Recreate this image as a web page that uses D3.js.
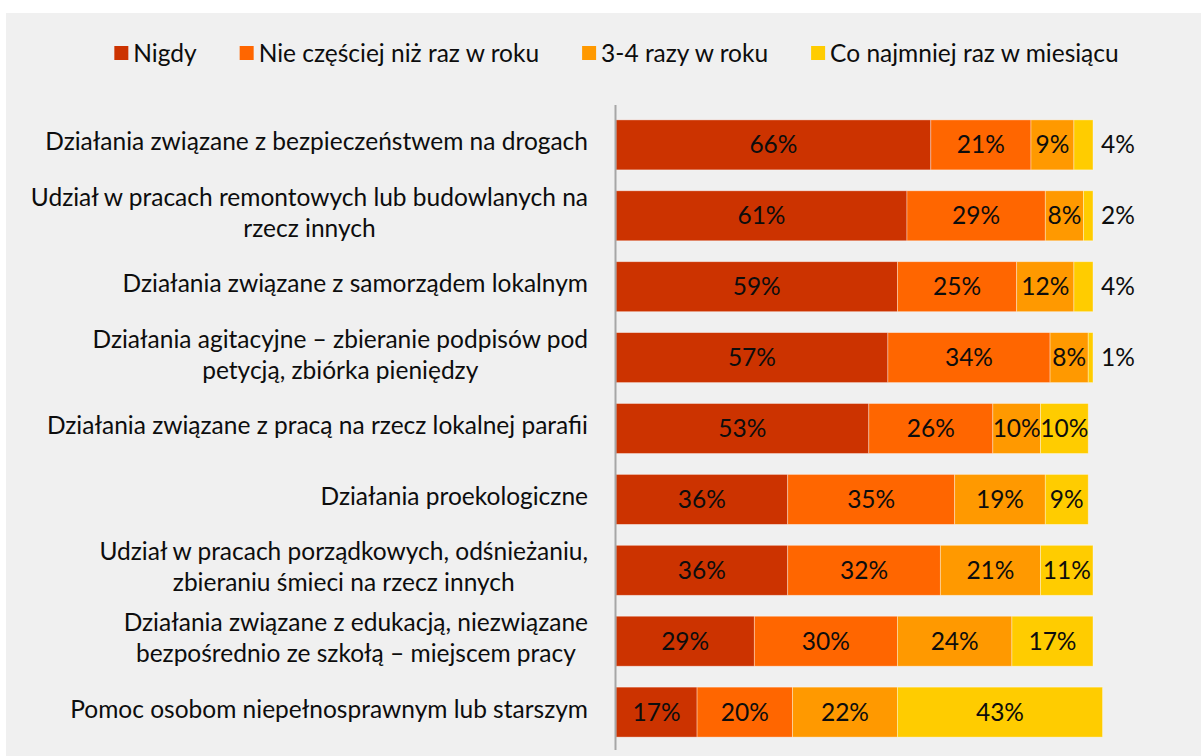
<!DOCTYPE html>
<html>
<head>
<meta charset="UTF-8">
<title>Aktywność społeczna</title>
<script src="https://d3js.org/d3.v7.min.js"></script>
<style>
  body { margin: 0; background: #ffffff; font-family: "Lato", sans-serif; }
  svg text { fill: #0d0d0d; }
</style>
</head>
<body>
<div id="chart"></div>
<script>

// categories (line breaks as in the original chart)
const categories = [
  "Działania związane z bezpieczeństwem na drogach",
  "Udział w pracach remontowych lub budowlanych na\nrzecz innych",
  "Działania związane z samorządem lokalnym",
  "Działania agitacyjne – zbieranie podpisów pod\npetycją, zbiórka pieniędzy",
  "Działania związane z pracą na rzecz lokalnej parafii",
  "Działania proekologiczne",
  "Udział w pracach porządkowych, odśnieżaniu,\nzbieraniu śmieci na rzecz innych",
  "Działania związane z edukacją, niezwiązane\nbezpośrednio ze szkołą – miejscem pracy",
  "Pomoc osobom niepełnosprawnym lub starszym"
];

const seriesNames = ["Nigdy", "Nie częściej niż raz w roku", "3-4 razy w roku", "Co najmniej raz w miesiącu"];
const seriesColors = ["#cc3300", "#ff6600", "#ff9900", "#ffcc00"];

// values in %, one array per series
const nigdy       = [66, 61, 59, 57, 53, 36, 36, 29, 17];
const razWRoku    = [21, 29, 25, 34, 26, 35, 32, 30, 20];
const trzyCztery  = [ 9,  8, 12,  8, 10, 19, 21, 24, 22];
const coMiesiac   = [ 4,  2,  4,  1, 10,  9, 11, 17, 43];

const W = 1203, H = 756;
const fs = 24.5;

const svg = d3.select("#chart").append("svg")
    .attr("width", W)
    .attr("height", H);

// grey panel
svg.append("rect")
    .attr("x", 6).attr("y", 13)
    .attr("width", W - 8).attr("height", H - 13)
    .attr("fill", "#f0f0f0");

const x = d3.scaleLinear()
    .domain([0, 100])
    .range([616, 1093]);

const y = d3.scaleBand()
    .domain(categories)
    .range([105, 752])
    .paddingInner(0.295)
    .paddingOuter(0.21);

// build stacked rows
const rows = categories.map((c, i) => ({
  cat: c,
  vals: [nigdy[i], razWRoku[i], trzyCztery[i], coMiesiac[i]]
}));
const segs = [];
rows.forEach(r => {
  let acc = 0;
  r.vals.forEach((v, k) => {
    segs.push({ cat: r.cat, k: k, v: v, x0: acc, x1: acc + v });
    acc += v;
  });
});

// bars
svg.append("g").selectAll("rect")
  .data(segs)
  .join("rect")
    .attr("x", d => x(d.x0))
    .attr("y", d => y(d.cat))
    .attr("width", d => x(d.x1) - x(d.x0))
    .attr("height", y.bandwidth())
    .attr("fill", d => seriesColors[d.k])
    .attr("stroke", "rgba(255,255,255,0.45)")
    .attr("stroke-width", 0.8);

// value labels (small ones go outside the bar)
svg.append("g").selectAll("text")
  .data(segs)
  .join("text")
    .attr("x", d => d.v < 5 ? x(d.x1) + 8 : (x(d.x0) + x(d.x1)) / 2)
    .attr("y", d => y(d.cat) + y.bandwidth() / 2)
    .attr("dy", "0.35em")
    .attr("text-anchor", d => d.v < 5 ? "start" : "middle")
    .attr("font-size", fs)
    .text(d => d.v + "%");

// vertical axis line
const yAxis = svg.append("g")
    .attr("transform", "translate(615.5,0)")
    .call(d3.axisLeft(y).tickSize(0).tickFormat(""));
yAxis.select(".domain")
    .attr("d", "M0,105V750")
    .attr("stroke", "#a6a6a6")
    .attr("stroke-width", 2);

// category labels (multi-line, centred block, right aligned)
const labelRight = 588, lineH = 31;
categories.forEach(c => {
  const lines = c.split("\n");
  const g = svg.append("g");
  const cy = y(c) + y.bandwidth() / 2 - 3;
  const texts = lines.map((l, j) => g.append("text")
      .attr("y", cy + (j - (lines.length - 1) / 2) * lineH)
      .attr("dy", "0.35em")
      .attr("font-size", fs)
      .attr("text-anchor", "middle")
      .text(l));
  const maxW = d3.max(texts, t => t.node().getComputedTextLength());
  texts.forEach(t => t.attr("x", labelRight - maxW / 2));
});

// legend
const legend = svg.append("g");
let lx = 0;
seriesNames.forEach((n, i) => {
  const item = legend.append("g").attr("transform", `translate(${lx},0)`);
  item.append("rect")
      .attr("x", 0).attr("y", 46)
      .attr("width", 14).attr("height", 14)
      .attr("fill", seriesColors[i]);
  const t = item.append("text")
      .attr("x", 19).attr("y", 53)
      .attr("dy", "0.35em")
      .attr("font-size", fs)
      .text(n);
  lx += 19 + t.node().getComputedTextLength() + 43;
});
const legW = lx - 43;
legend.attr("transform", `translate(${616.5 - legW / 2},0)`);

</script>
</body>
</html>
